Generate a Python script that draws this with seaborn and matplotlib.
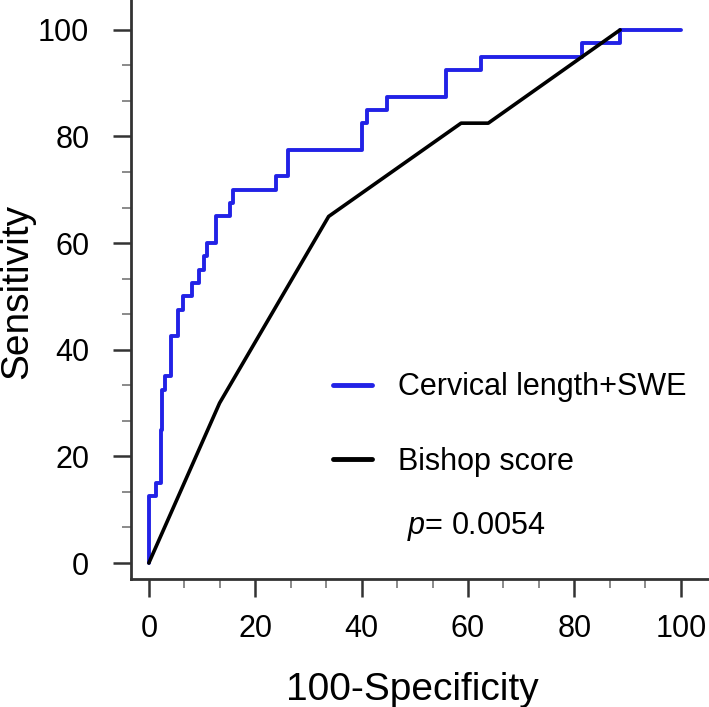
import matplotlib
matplotlib.use("Agg")
import matplotlib.pyplot as plt
from matplotlib.ticker import MultipleLocator
import pandas as pd
import seaborn as sns

# ROC operating points (100-Specificity, Sensitivity)
swe_fpr = [0, 0, 1.3, 2.2, 2.4, 3.1, 4.1, 5.5, 6.5, 8.2, 9.4, 10.4, 11.0, 12.6,
           15.3, 15.9, 23.9, 26.2, 40.0, 41.0, 44.7, 55.9, 62.4, 81.4, 88.6, 100]
swe_tpr = [0, 12.5, 15, 25, 32.5, 35, 42.5, 47.5, 50, 52.5, 55, 57.5, 60, 65,
           67.5, 70, 72.5, 77.5, 82.5, 85, 87.5, 92.5, 95, 97.5, 100, 100]

bishop_fpr = [0, 13.3, 33.8, 58.7, 63.8, 88.6]
bishop_tpr = [0, 30.0, 65.0, 82.5, 82.5, 100]

labels = ["Cervical length+SWE", "Bishop score"]
p_text = "$p$= 0.0054"

sns.set_style("ticks")
plt.rcParams["font.family"] = ["Liberation Sans", "DejaVu Sans"]
plt.rcParams["mathtext.fontset"] = "custom"
plt.rcParams["mathtext.it"] = "Liberation Sans:italic"
plt.rcParams["mathtext.rm"] = "Liberation Sans"
plt.rcParams["text.color"] = "black"
plt.rcParams["axes.labelcolor"] = "black"
plt.rcParams["xtick.labelcolor"] = "black"
plt.rcParams["ytick.labelcolor"] = "black"

swe = pd.DataFrame({"fpr": swe_fpr, "tpr": swe_tpr})
bishop = pd.DataFrame({"fpr": bishop_fpr, "tpr": bishop_tpr})

fig = plt.figure(figsize=(7.09, 7.07), dpi=100)
ax = fig.add_axes([131 / 709, 1 - 579 / 707, 578 / 709, 579 / 707])

sns.lineplot(data=swe, x="fpr", y="tpr", ax=ax, sort=False, estimator=None,
             drawstyle="steps-post", color="#2222e6", linewidth=2.8, label=labels[0])
sns.lineplot(data=bishop, x="fpr", y="tpr", ax=ax, sort=False, estimator=None,
             color="black", linewidth=2.6, label=labels[1])

ax.set_xlim(-3.35, 105.3)
ax.set_ylim(-3.0, 105.6)
ax.set_xticks(range(0, 101, 20))
ax.set_yticks(range(0, 101, 20))
ax.xaxis.set_minor_locator(MultipleLocator(20 / 3))
ax.yaxis.set_minor_locator(MultipleLocator(20 / 3))

for side in ["top", "right"]:
    ax.spines[side].set_visible(False)
for side in ["left", "bottom"]:
    ax.spines[side].set_linewidth(2)
    ax.spines[side].set_color("#333333")

ax.tick_params(which="major", length=13, width=1.8, color="#333333", labelsize=22)
ax.tick_params(which="minor", length=6.5, width=1.2, color="#777777")
ax.tick_params(axis="y", which="major", pad=17)
ax.tick_params(axis="x", which="major", pad=12)

ax.set_xlabel("100-Specificity", fontsize=28)
ax.set_ylabel("Sensitivity", fontsize=28)
ax.xaxis.set_label_coords(0.486, -0.192)
ax.xaxis.label.set_va("center")
ax.yaxis.set_label_coords(-0.197, 0.497)
ax.yaxis.label.set_va("center")

leg = ax.legend(loc="upper left", bbox_to_anchor=(0.349, 0.357), frameon=False,
                fontsize=22, handlelength=1.3, handletextpad=0.85,
                labelspacing=1.45, borderpad=0, borderaxespad=0)
for line in leg.get_lines():
    line.set_linewidth(3.5)

ax.text(48.5, 6.9, p_text, fontsize=22, va="center", ha="left")

fig.savefig("out.png", dpi=100)
